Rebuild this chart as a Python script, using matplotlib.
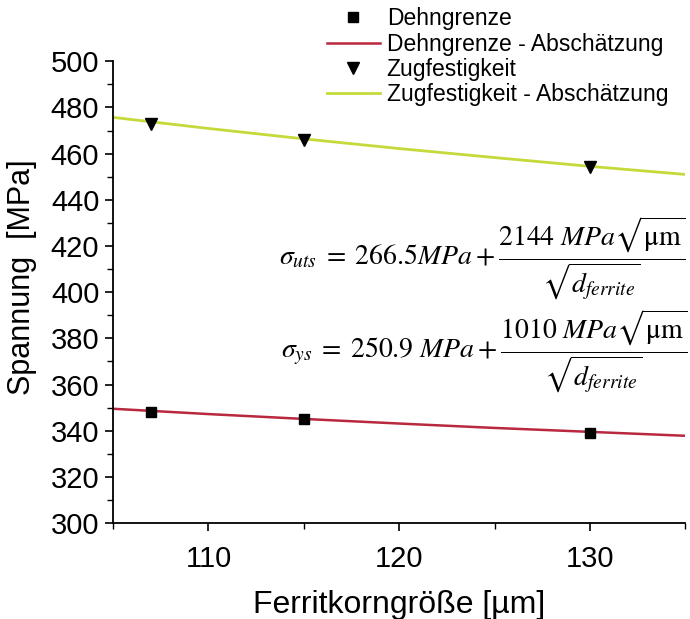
import matplotlib
matplotlib.use("Agg")
import matplotlib.pyplot as plt
from matplotlib.ticker import MultipleLocator

plt.rcParams['font.family'] = ['Liberation Sans', 'DejaVu Sans']
plt.rcParams['mathtext.fontset'] = 'stix'

# Measured data
grain_size = [107, 115, 130]
yield_strength = [348, 345, 339]
tensile_strength = [473, 466, 454]

# Estimation curves
est_x = [105, 110, 115, 120, 125, 130, 135]
est_ys = [349.5, 347.2, 345.1, 343.1, 341.2, 339.5, 337.8]
est_uts = [475.7, 470.9, 466.4, 462.2, 458.3, 454.5, 451.0]

xticks = [110, 120, 130]
yticks = [300, 320, 340, 360, 380, 400, 420, 440, 460, 480, 500]

fig = plt.figure(figsize=(6.9, 6.19), dpi=100)
ax = fig.add_axes([0.164, 0.155, 0.829, 0.746])

red = '#b8283f'
green = '#c5da3a'

l1, = ax.plot(est_x, est_ys, color=red, lw=1.8, zorder=2,
              label='Dehngrenze - Abschätzung')
l2, = ax.plot(est_x, est_uts, color=green, lw=2.0, zorder=2,
              label='Zugfestigkeit - Abschätzung')
s1, = ax.plot(grain_size, yield_strength, 's', color='black', ms=7,
              ls='none', zorder=3, label='Dehngrenze')
s2, = ax.plot(grain_size, tensile_strength, 'v', color='black', ms=8,
              ls='none', zorder=3, label='Zugfestigkeit')

ax.set_xlim(105, 135)
ax.set_ylim(300, 500)
ax.set_xticks(xticks)
ax.set_yticks(yticks)
ax.xaxis.set_minor_locator(MultipleLocator(5))
ax.yaxis.set_minor_locator(MultipleLocator(10))
ax.tick_params(axis='both', which='major', direction='out', length=6,
               width=1.2, labelsize=21)
ax.tick_params(axis='y', which='major', pad=4)
ax.tick_params(axis='x', which='major', pad=10)
ax.tick_params(axis='both', which='minor', direction='out', length=4,
               width=1.0)
for s in ['top', 'right']:
    ax.spines[s].set_visible(False)
for s in ['left', 'bottom']:
    ax.spines[s].set_linewidth(1.3)

ax.set_xlabel('Ferritkorngröße [µm]', fontsize=23)
ax.xaxis.set_label_coords(0.5, -0.145)
ax.set_ylabel('Spannung  [MPa]', fontsize=22)
ax.yaxis.set_label_coords(-0.133, 0.532)

fig.legend(handles=[s1, l1, s2, l2], loc='upper left',
           bbox_to_anchor=(0.474, 0.988), frameon=False, fontsize=16.5,
           handlelength=2.3, handletextpad=0.3, labelspacing=0.1,
           borderaxespad=0, borderpad=0)

fig.text(0.994, 0.583,
         r'$\sigma_{uts}\;=\;266.5MPa+\dfrac{2144\ MPa\sqrt{\mathrm{\mu m}}}{\sqrt{d_{ferrite}}}$',
         ha='right', va='center', fontsize=20)
fig.text(0.996, 0.432,
         r'$\sigma_{ys}\;=\;250.9\ MPa+\dfrac{1010\ MPa\sqrt{\mathrm{\mu m}}}{\sqrt{d_{ferrite}}}$',
         ha='right', va='center', fontsize=20)

fig.savefig('out.png', dpi=100)
